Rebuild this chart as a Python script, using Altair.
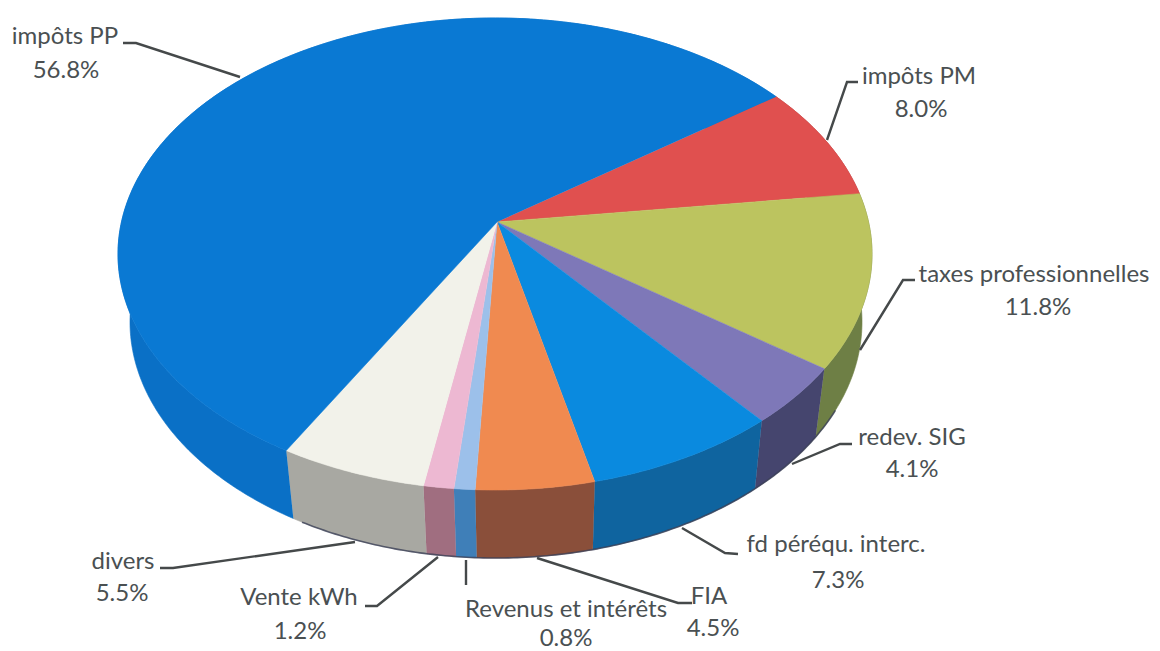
import math
import altair as alt
import pandas as pd

# Slices, clockwise from the PP / PM boundary
names = ["impôts PM", "taxes professionnelles", "redev. SIG", "fd péréqu. interc.", "FIA",
         "Revenus et intérêts", "Vente kWh", "divers", "impôts PP"]
labelled = ["8.0%", "11.8%", "4.1%", "7.3%", "4.5%", "0.8%", "1.2%", "5.5%", "56.8%"]
# share of the turn each slice takes as drawn (percent)
drawn_share = [7.5, 12.2, 4.4, 8.25, 5.1, 0.9, 1.3, 6.3, 54.05]
top_colors = ["#E0504F", "#BCC45F", "#7E78B8", "#0A8ADF", "#F08A50", "#9CC0EA", "#EDB8D2", "#F2F2EA", "#0A79D3"]
side_colors = ["#A8403F", "#6E7F45", "#45456E", "#0F649F", "#8A4F3A", "#3F7FB8", "#A06E80", "#A8A8A2", "#0A70C6"]

start_angle = -41.8
apex = (497, 222)
top_ellipse = (495, 254, 377, 236)
bottom_ellipse = (496, 322, 366, 236)
edge_range = (22, 122)

# Labels: centre positions of name and value lines
name_x = [919, 1034, 912, 836, 709, 566, 299, 123, 65]
name_y = [77, 275, 438, 545, 597, 610, 598, 562, 37]
value_x = [921, 1038, 912, 838, 713, 566, 300, 122, 66]
value_y = [110, 308, 470, 581, 629, 639, 632, 594, 71]

leaders = [
    [(858, 82), (847, 82), (827, 140)],
    [(915, 280), (903, 280), (860, 350)],
    [(852, 444), (840, 444), (792, 464)],
    [(738, 554), (725, 553), (682, 528)],
    [(692, 603), (678, 603), (537, 558)],
    [(466, 585), (466, 560)],
    [(365, 606), (377, 606), (438, 557)],
    [(160, 568), (173, 568), (355, 542)],
    [(123, 43), (136, 43), (240, 77)],
]


def on(e, deg):
    r = math.radians(deg)
    return e[0] + e[2] * math.cos(r), e[1] + e[3] * math.sin(r)


def sweep(a0, a1):
    n = max(2, int(abs(a1 - a0) * 1.5))
    return [a0 + (a1 - a0) * k / n for k in range(n + 1)]


X = alt.Scale(domain=[8, 1152], range=[0, 1144], nice=False, zero=False)
Y = alt.Scale(domain=[651, 8], range=[643, 0], nice=False, zero=False)


def frame(points):
    return pd.DataFrame({"x": [p[0] for p in points], "y": [p[1] for p in points], "i": range(len(points))})


def shape(points, color):
    return alt.Chart(frame(points)).mark_line(fill=color, stroke=color, strokeWidth=0.6).encode(
        x=alt.X("x:Q", scale=X, axis=None),
        y=alt.Y("y:Q", scale=Y, axis=None),
        order="i:Q",
    )


sides, tops = [], []
a = start_angle
for share, tc, sc in zip(drawn_share, top_colors, side_colors):
    b = a + share * 3.6
    arc = sweep(a, b)
    sides.append(shape([on(top_ellipse, t) for t in arc] + [on(bottom_ellipse, t) for t in reversed(arc)], sc))
    tops.append(shape([apex] + [on(top_ellipse, t) for t in arc], tc))
    a = b

edge = alt.Chart(frame([on(bottom_ellipse, t) for t in sweep(*edge_range)])).mark_line(
    color="#3A3F55", strokeWidth=1.6, opacity=0.8
).encode(
    x=alt.X("x:Q", scale=X, axis=None),
    y=alt.Y("y:Q", scale=Y, axis=None),
    order="i:Q",
)

rows = []
for k, line in enumerate(leaders):
    for j, p in enumerate(line):
        rows.append({"x": p[0], "y": p[1], "k": k, "j": j})
leader_chart = alt.Chart(pd.DataFrame(rows)).mark_line(color="#45494A", strokeWidth=2.4).encode(
    x=alt.X("x:Q", scale=X, axis=None),
    y=alt.Y("y:Q", scale=Y, axis=None),
    detail="k:N",
    order="j:Q",
)

txt = pd.DataFrame({
    "x": name_x + value_x,
    "y": name_y + value_y,
    "t": names + labelled,
})
text_chart = alt.Chart(txt).mark_text(font="Lato", fontSize=24, color="#4A5052", align="center", baseline="middle").encode(
    x=alt.X("x:Q", scale=X, axis=None),
    y=alt.Y("y:Q", scale=Y, axis=None),
    text="t:N",
)

chart = alt.layer(*sides, edge, *tops, leader_chart, text_chart).properties(
    width=1144, height=643, padding=0,
    autosize=alt.AutoSizeParams(type="none"),
).configure_view(stroke=None)

chart.save("out.html", embed_options={"renderer": "svg", "actions": False})
